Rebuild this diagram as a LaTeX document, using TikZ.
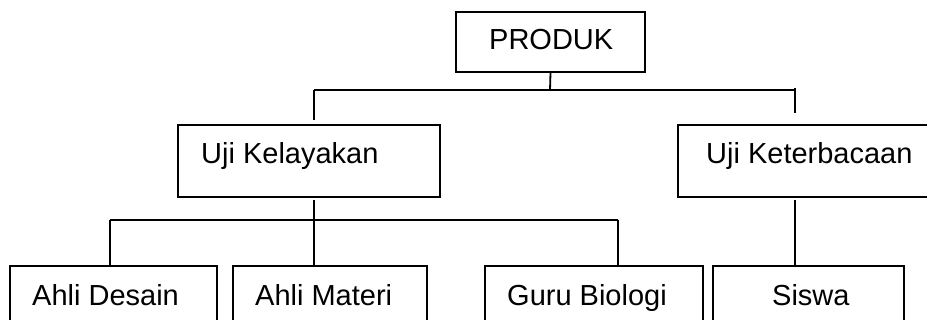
\documentclass[tikz,border=0pt]{standalone}
\usepackage{fontspec}
\setmainfont{Liberation Sans}
\begin{document}
\begin{tikzpicture}[x=1pt,y=-1pt,
  box/.style={draw=black,line width=1.8pt,inner sep=0pt,minimum width=#1},
  lbl/.style={anchor=base west,inner sep=0pt,font=\fontsize{29}{34}\selectfont},
  conn/.style={draw=black,line width=1.8pt}]
\useasboundingbox (0,0) rectangle (927,320);
\clip (0,0) rectangle (927,320);
% boxes
\node[box=189pt,minimum height=60pt] (produk) at (550.5,42) {};
\node[box=262pt,minimum height=72pt] (kel) at (309,161) {};
\node[box=257pt,minimum height=72pt] (ket) at (806.5,161) {};
\node[box=207pt,minimum height=74pt] (desain) at (113.5,303) {};
\node[box=194pt,minimum height=74pt] (materi) at (330,303) {};
\node[box=218pt,minimum height=74pt] (guru) at (594,303) {};
\node[box=191pt,minimum height=74pt] (siswa) at (808.5,303) {};
% texts
\node[lbl] (tprod) at (489,49.5) {PRODUK};
\node[lbl] (tkel) at (201,164) {Uji Kelayakan};
\node[lbl] (tket) at (706,164) {Uji Keterbacaan};
\node[lbl] (tdes) at (32,305.5) {Ahli Desain};
\node[lbl] (tmat) at (255,305.5) {Ahli Materi};
\node[lbl] (tguru) at (507,305.5) {Guru Biologi};
\node[lbl] (tsis) at (772,305.5) {Siswa};
% connector points
\coordinate (b1) at (550,90);
\coordinate (b1l) at (314,90);
\coordinate (b1r) at (795,90);
\coordinate (b1re) at (795,88);
\coordinate (kelend) at (314,120);
\coordinate (ketend) at (795,113);
\coordinate (k0) at (314,200);
\coordinate (k1) at (314,220);
\coordinate (k1l) at (110,220);
\coordinate (k1r) at (618,220);
\coordinate (s0) at (795,200);
\draw[conn] (produk.south) -- (b1);
\draw[conn] (b1l) -- (b1r);
\draw[conn] (b1l) -- (kelend);
\draw[conn] (b1re) -- (ketend);
\draw[conn] (k0) -- (materi.north -| k0);
\draw[conn] (k1l) -- (k1r);
\draw[conn] (k1l) -- (desain.north -| k1l);
\draw[conn] (k1r) -- (guru.north -| k1r);
\draw[conn] (s0) -- (siswa.north -| s0);
\end{tikzpicture}
\end{document}
